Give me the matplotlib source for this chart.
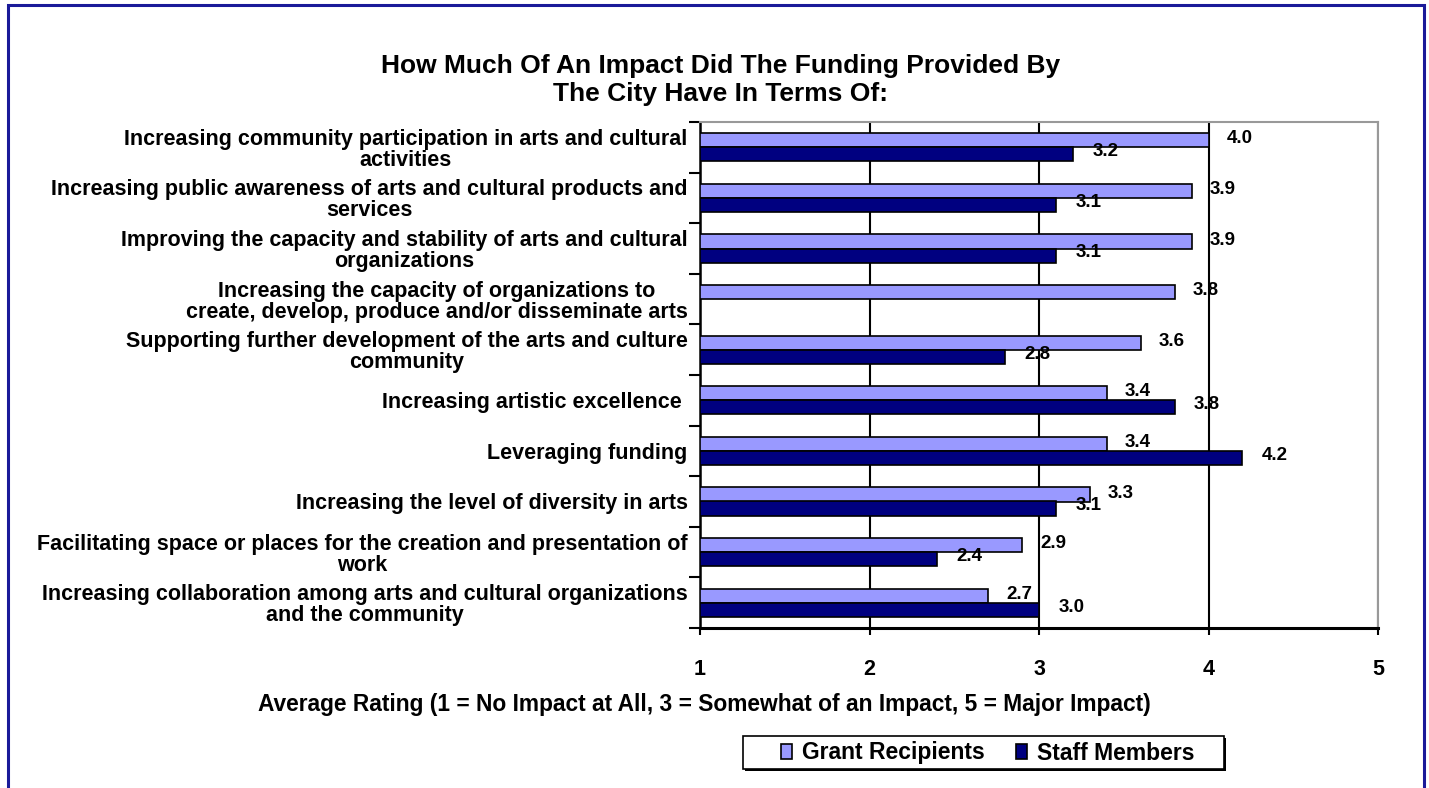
import numpy as np
import matplotlib
matplotlib.use("Agg")
import matplotlib.pyplot as plt
from matplotlib.patches import Rectangle

plt.rcParams['font.family'] = ['Liberation Sans', 'DejaVu Sans']
plt.rcParams['font.weight'] = 'bold'

categories = [
    "Increasing community participation in arts and cultural\nactivities",
    "Increasing public awareness of arts and cultural products and\nservices",
    "Improving the capacity and stability of arts and cultural\norganizations",
    "Increasing the capacity of organizations to\ncreate, develop, produce and/or disseminate arts",
    "Supporting further development of the arts and culture\ncommunity",
    "Increasing artistic excellence ",
    "Leveraging funding",
    "Increasing the level of diversity in arts",
    "Facilitating space or places for the creation and presentation of\nwork",
    "Increasing collaboration among arts and cultural organizations\nand the community",
]
grant_recipients = [4.0, 3.9, 3.9, 3.8, 3.6, 3.4, 3.4, 3.3, 2.9, 2.7]
staff_members = [3.2, 3.1, 3.1, np.nan, 2.8, 3.8, 4.2, 3.1, 2.4, 3.0]
series_names = ["Grant Recipients", "Staff Members"]
x_ticks = [1, 2, 3, 4, 5]

title = "How Much Of An Impact Did The Funding Provided By\nThe City Have In Terms Of:"
x_title = "Average Rating (1 = No Impact at All, 3 = Somewhat of an Impact, 5 = Major Impact)"

LIGHT = "#9999FF"
NAVY = "#000080"

W, H = 1429, 788
fig = plt.figure(figsize=(W / 100, H / 100), dpi=100)
ax = fig.add_axes([700 / W, 1 - 628 / H, 678 / W, 506 / H])

y = np.arange(len(categories))
bar_h = 0.28
g = np.array(grant_recipients)
s = np.array(staff_members)
ax.barh(y - 0.14, g - 1, left=1, height=bar_h, color=LIGHT,
        edgecolor="black", linewidth=1.2, label=series_names[0], zorder=3)
ax.barh(y + 0.14, s - 1, left=1, height=bar_h, color=NAVY,
        edgecolor="black", linewidth=1.2, label=series_names[1], zorder=3)

# value labels just past the end of each bar
for yi, v in zip(y - 0.14, g):
    ax.annotate(f"{v:.1f}", xy=(v, yi), xytext=(13, 1), textcoords="offset points",
                va="center", ha="left", fontsize=13.5, fontweight="bold", zorder=4)
for yi, v in zip(y + 0.14, s):
    if np.isnan(v):
        continue
    ax.annotate(f"{v:.1f}", xy=(v, yi), xytext=(14, 2), textcoords="offset points",
                va="center", ha="left", fontsize=13.5, fontweight="bold", zorder=4)

ax.set_xlim(1, 5)
ax.set_ylim(len(categories) - 0.5, -0.5)
ax.set_xticks(x_ticks)
ax.set_xticklabels([str(t) for t in x_ticks], fontsize=15.5, fontweight="bold")
ax.tick_params(axis="x", direction="out", length=5, width=1.5, pad=17)

ax.set_yticks(y)
ax.set_yticklabels(categories, fontsize=15.5, fontweight="bold",
                   multialignment="center", linespacing=1.0)
ax.set_yticks(np.arange(-0.5, len(categories), 1), minor=True)
ax.tick_params(axis="y", which="major", length=0, pad=9)
ax.tick_params(axis="y", which="minor", direction="out", length=8, width=1.5)

ax.grid(axis="x", color="black", linewidth=1.5, zorder=0)
ax.set_axisbelow(True)
for side in ("top", "right"):
    ax.spines[side].set_color("#999999")
    ax.spines[side].set_linewidth(1.5)
ax.spines["left"].set_linewidth(1.8)
ax.spines["bottom"].set_linewidth(2.2)

fig.text(0.504, 1 - 80 / H, title, ha="center", va="center", fontsize=19,
         fontweight="bold", linespacing=1.25)
fig.text(704 / W, 1 - 704 / H, x_title, ha="center", va="center", fontsize=16.4,
         fontweight="bold")

# legend box with a thin drop shadow, entries drawn on top without a frame
fig.patches.append(Rectangle(((743 + 2) / W, 1 - (769 + 2) / H), 481 / W, 33 / H,
                             transform=fig.transFigure, facecolor="black",
                             edgecolor="none", zorder=1))
fig.patches.append(Rectangle((743 / W, 1 - 769 / H), 481 / W, 33 / H,
                             transform=fig.transFigure, facecolor="white",
                             edgecolor="black", linewidth=1.2, zorder=2))
leg = fig.legend(loc="center", bbox_to_anchor=(988 / W, 1 - 753 / H), ncol=2,
                 frameon=False, fontsize=16.5, handlelength=0.48,
                 handleheight=0.6, handletextpad=0.44, columnspacing=1.35,
                 borderpad=0.0)
leg.set_zorder(5)

# outer border around the whole chart
fig.patches.append(Rectangle((8 / W, -0.05), 1416 / W, 1.05 - 5 / H,
                             transform=fig.transFigure, fill=False,
                             edgecolor="#1a1a99", linewidth=2.2))

fig.savefig("out.png", dpi=100)
